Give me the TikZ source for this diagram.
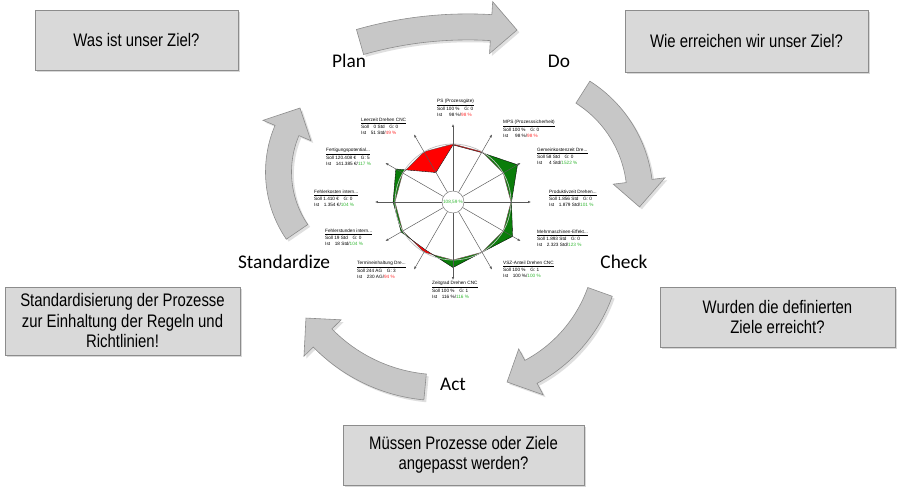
\documentclass[tikz,border=0pt]{standalone}
\usepackage{fontspec}
\setmainfont{Carlito}
\newfontfamily\boxfont[FakeStretch=0.82]{Liberation Sans}
\newfontfamily\kpifont{Liberation Sans}
\usetikzlibrary{arrows.meta,shadows}

\definecolor{boxgray}{HTML}{D9D9D9}
\definecolor{kpigreen}{HTML}{0A7D0A}
\definecolor{kpired}{HTML}{FF0000}
\definecolor{txtgreen}{HTML}{33B833}
\definecolor{txtred}{HTML}{FF3030}

\newcommand{\kpigood}[1]{\textcolor{txtgreen}{#1}}
\newcommand{\kpibad}[1]{\textcolor{txtred}{#1}}

% curved block arrow: centre x, centre y, radius, start angle, end angle
\newcommand{\cyclearrow}[5]{%
  \pgfmathsetmacro{\headangle}{#5-26/#3*57.3}%
  \filldraw[cyclearrowstyle]
    plot[domain=#4:\headangle, samples=25] ({#1+(#3+13)*cos(\x)},{#2+(#3+13)*sin(\x)})
    -- ({#1+(#3+26)*cos(\headangle)},{#2+(#3+26)*sin(\headangle)})
    -- ({#1+#3*cos(#5)},{#2+#3*sin(#5)})
    -- ({#1+(#3-26)*cos(\headangle)},{#2+(#3-26)*sin(\headangle)})
    -- plot[domain=\headangle:#4, samples=25] ({#1+(#3-13)*cos(\x)},{#2+(#3-13)*sin(\x)})
    -- cycle;}

\def\radarvalues{1/98,2/135,3/101,4/123,5/100,6/116,7/94,8/104,9/104,10/117,11/49}

\tikzset{
  phasebox/.style={draw=black!45, fill=boxgray, align=center,
    font=\boxfont\fontsize{15.5}{17.5}\selectfont,
    drop shadow={opacity=0.3, shadow xshift=2pt, shadow yshift=-2pt}},
  phase/.style={font=\fontsize{16.5}{20}\selectfont},
  cyclearrowstyle/.style={fill=black!22, draw=black!45, line width=0.5pt,
    drop shadow={opacity=0.25, shadow xshift=2pt, shadow yshift=-2pt}},
  spoke/.style={draw=black!65, line width=0.4pt, -{Latex[length=2.5pt,width=2pt]}},
  kpi/.style={anchor=north west, align=left, inner sep=0pt,
    font=\kpifont\fontsize{4}{4.8}\selectfont}
}

\begin{document}
\begin{tikzpicture}[x=0.03cm, y=-0.03cm]
    \useasboundingbox[fill=white] (0,0) rectangle (900,488);

    % Cycle arrows
    \cyclearrow{467.7}{418.5}{391.6}{-105.96}{-82.77}
    \cyclearrow{517}{196}{123}{-57.6}{5.1}
    \cyclearrow{462}{242.5}{146.6}{19.7}{72.1}
    \cyclearrow{440.6}{222.7}{165}{95.4}{144.7}
    \cyclearrow{384.5}{172}{106}{145.6}{217.1}

    % Question boxes
    \node[phasebox, minimum width=6.09cm, minimum height=1.8cm] (planbox) at (136.5,40) {Was ist unser Ziel?};
    \node[phasebox, minimum width=7.29cm, minimum height=1.86cm] (dobox) at (746.5,41) {Wie erreichen wir unser Ziel?};
    \node[phasebox, minimum width=7.05cm, minimum height=1.8cm] (checkbox) at (777.5,317) {Wurden die definierten\\Ziele erreicht?};
    \node[phasebox, minimum width=7.23cm, minimum height=1.8cm] (actbox) at (463.5,455) {Müssen Prozesse oder Ziele\\angepasst werden?};
    \node[phasebox, minimum width=7.05cm, minimum height=2.04cm] (stdbox) at (122.5,321) {Standardisierung der Prozesse\\zur Einhaltung der Regeln und\\Richtlinien!};

    % Phase names
    \node[phase] (plan) at (349,61) {Plan};
    \node[phase] (do) at (559,61) {Do};
    \node[phase] (check) at (624,262) {Check};
    \node[phase] (act) at (453,384) {Act};
    \node[phase] (std) at (284,262) {Standardize};

    % Radar chart
    \begin{scope}[shift={(453,202)}]
        \fill[kpigreen] (-90:{11+0.47*98}) \foreach \i/\p in \radarvalues {-- ({-90+30*\i}:{11+0.47*\p})} -- cycle;
        \fill[kpired] (-90:58) \foreach \i in {1,...,11} {-- ({-90+30*\i}:58)} -- cycle;
        \begin{scope}
            \clip (-90:58) \foreach \i in {1,...,11} {-- ({-90+30*\i}:58)} -- cycle;
            \fill[white] (-90:{11+0.47*98}) \foreach \i/\p in \radarvalues {-- ({-90+30*\i}:{11+0.47*\p})} -- cycle;
        \end{scope}
        \draw[black!70, line width=0.3pt] (-90:58) \foreach \i in {1,...,11} {-- ({-90+30*\i}:58)} -- cycle;
        \draw[black, line width=0.3pt] (-90:{11+0.47*98}) \foreach \i/\p in \radarvalues {-- ({-90+30*\i}:{11+0.47*\p})} -- cycle;
        \draw[gray!50, line width=0.6pt] (0,0) circle[radius=1.74cm];
        \foreach \i in {0,...,11}
            \draw[spoke] ({-90+30*\i}:11) -- ({-90+30*\i}:78);
        \node[circle, draw=black!55, fill=white, minimum size=0.66cm, inner sep=0pt,
            font=\kpifont\fontsize{4}{5}\selectfont, text=txtgreen] (total) at (0,0) {108,59 \%};
    \end{scope}

    % Key figures
    \node[kpi] (ps) at (437,99) {\underline{PS (Prozessgüte)}\\Soll 100 \%\hspace{4pt}G: 0\\Ist\hspace{6pt}98 \%/\kpibad{98 \%}};
    \node[kpi] (mps) at (503,120) {\underline{MPS (Prozesssicherheit)}\\Soll 100 \%\hspace{4pt}G: 0\\Ist\hspace{6pt}98 \%/\kpibad{98 \%}};
    \node[kpi] (gemein) at (537,148) {\underline{Gemeinkostenzeit Dre...}\\Soll 58 Std\hspace{4pt}G: 0\\Ist\hspace{6pt}4 Std/\kpigood{1522 \%}};
    \node[kpi] (produktiv) at (549,190) {\underline{Produktivzeit Drehen...}\\Soll 1.856 Std\hspace{4pt}G: 0\\Ist\hspace{4pt}1.879 Std/\kpigood{101 \%}};
    \node[kpi] (mehr) at (537,230) {\underline{Mehrmaschinen-Effekt...}\\Soll 1.893 Std\hspace{4pt}G: 0\\Ist\hspace{4pt}2.323 Std/\kpigood{123 \%}};
    \node[kpi] (vsz) at (503,261) {\underline{VSZ-Anteil Drehen CNC}\\Soll 100 \%\hspace{4pt}G: 1\\Ist\hspace{4pt}100 \%/\kpigood{100 \%}};
    \node[kpi] (zeitgrad) at (432,281) {\underline{Zeitgrad Drehen CNC}\\Soll 100 \%\hspace{4pt}G: 1\\Ist\hspace{4pt}116 \%/\kpigood{116 \%}};
    \node[kpi] (termin) at (357,261) {\underline{Termineinhaltung Dre...}\\Soll 244 AG\hspace{4pt}G: 3\\Ist\hspace{4pt}230 AG/\kpibad{94 \%}};
    \node[kpi] (fstunden) at (325,229) {\underline{Fehlerstunden intern...}\\Soll 19 Std\hspace{4pt}G: 0\\Ist\hspace{4pt}18 Std/\kpigood{104 \%}};
    \node[kpi] (fkosten) at (314,190) {\underline{Fehlerkosten intern...}\\Soll 1.410 €\hspace{4pt}G: 0\\Ist\hspace{4pt}1.354 €/\kpigood{104 \%}};
    \node[kpi] (fpot) at (326,148) {\underline{Fertigungspotential...}\\Soll 120.408 €\hspace{4pt}G: 5\\Ist\hspace{4pt}141.385 €/\kpigood{117 \%}};
    \node[kpi] (leer) at (361,118) {\underline{Leerzeit Drehen CNC}\\Soll\hspace{4pt}0 Std\hspace{4pt}G: 0\\Ist\hspace{4pt}51 Std/\kpibad{49 \%}};
\end{tikzpicture}
\end{document}
